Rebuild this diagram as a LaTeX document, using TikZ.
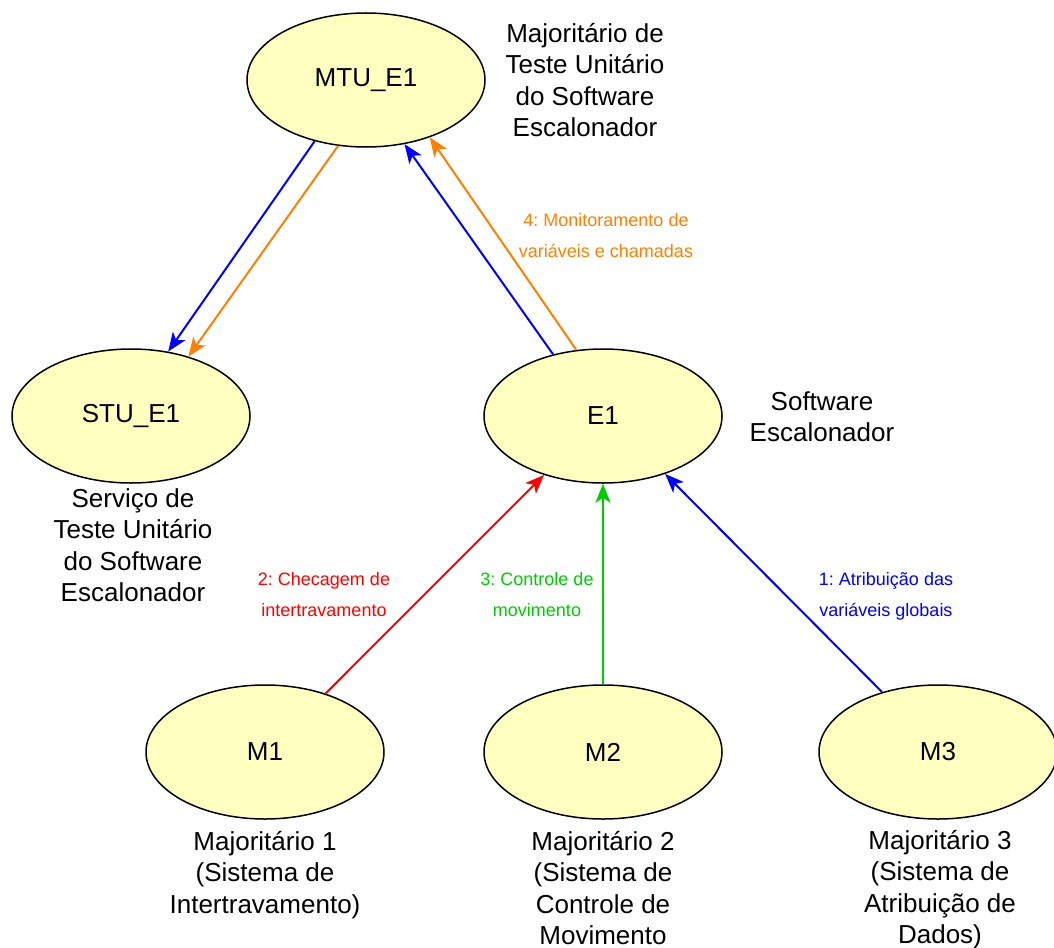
\documentclass[tikz,border=0pt]{standalone}
\usepackage{fontspec}
\setmainfont{Liberation Sans}
\usetikzlibrary{shapes.geometric,arrows.meta}
\definecolor{fillY}{HTML}{FFFFC0}
\definecolor{cBlue}{HTML}{0000FF}
\definecolor{cOrange}{HTML}{FF8000}
\definecolor{cRed}{HTML}{FF0000}
\definecolor{cGreen}{HTML}{00CC00}
\frenchspacing
\begin{document}
\begin{tikzpicture}[x=1pt,y=-1pt,
 ell/.style={ellipse, draw=black, line width=1.5pt, fill=fillY, minimum width=238pt, minimum height=134pt, inner sep=0pt, font=\fontsize{26}{32}\selectfont},
 desc/.style={align=center, anchor=base, font=\fontsize{26}{31.5}\selectfont},
 lbl/.style={align=center, anchor=base, font=\fontsize{18}{31.5}\selectfont},
 conn/.style={line width=2pt, -{Stealth[length=19pt,width=15pt,inset=5pt]}}
]
\useasboundingbox (0,0) rectangle (1054,947);

\node[ell] (MTU) at (366,80) {MTU\_E1};
\node[ell] (STU) at (131,416) {STU\_E1};
\node[ell] (E1) at (603,416) {E1};
\node[ell] (M1) at (265,752) {M1};
\node[ell] (M2) at (603,752) {M2};
\node[ell] (M3) at (938,752) {M3};

% base anchor = baseline of the last line
\node[desc] (dMTU) at (585,136.5) {Majoritário de\\Teste Unitário\\do Software\\Escalonador};
\node[desc] (dE1) at (822,441.5) {Software\\Escalonador};
\node[desc] (dSTU) at (133,601.5) {Serviço de\\Teste Unitário\\do Software\\Escalonador};
\node[desc] (dM1) at (265,913) {Majoritário 1\\(Sistema de\\Intertravamento)};
\node[desc] (dM2) at (603,944.5) {Majoritário 2\\(Sistema de\\Controle de\\Movimento};
\node[desc] (dM3) at (940,943.5) {Majoritário 3\\(Sistema de\\Atribuição de\\Dados)};

\draw[conn, cBlue] (MTU.-130.5) -- (STU.60.6);
\draw[conn, cOrange] (MTU.-113.4) -- (STU.46);
\draw[conn, cBlue] (E1.129) -- (MTU.-59.6);
\draw[conn, cOrange] (E1.112.4) -- (MTU.-42.3);
\draw[conn, cRed] (M1.44.5) -- (E1.-135.5);
\draw[conn, cGreen] (M2.90) -- (E1.-90);
\draw[conn, cBlue] (M3.133.5) -- (E1.-43.2);

\node[lbl, text=cOrange] (l4) at (606,257.5) {4: Monitoramento de\\variáveis e chamadas};
\node[lbl, text=cRed] (l2) at (324,616.5) {2: Checagem de\\intertravamento};
\node[lbl, text=cGreen] (l3) at (537,616.5) {3: Controle de\\movimento};
\node[lbl, text=cBlue] (l1) at (886,616.5) {1: Atribuição das\\variáveis globais};
\end{tikzpicture}
\end{document}
